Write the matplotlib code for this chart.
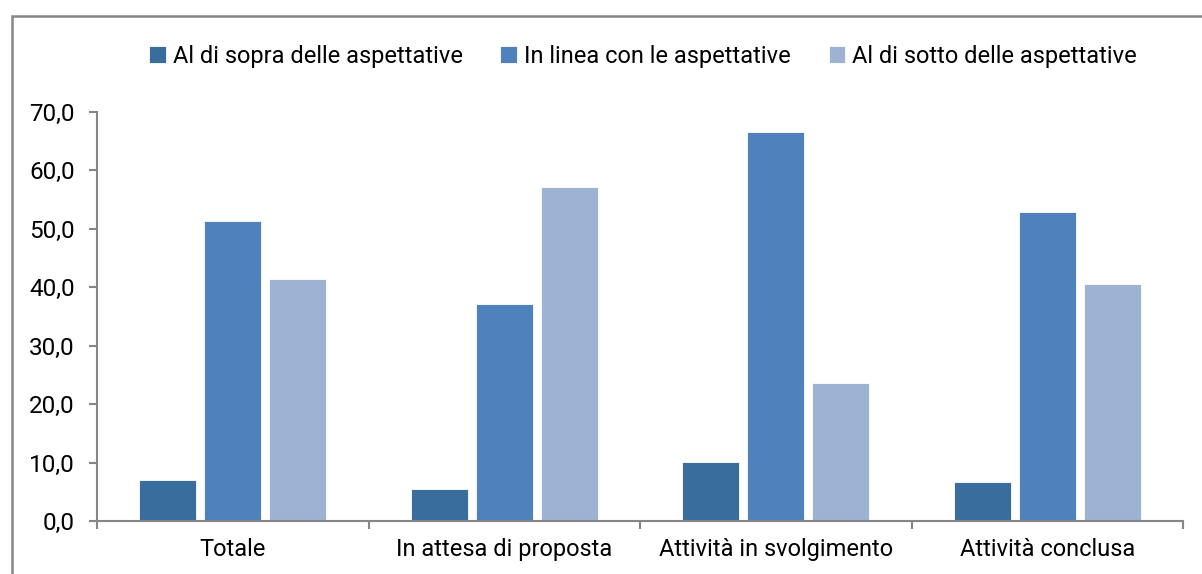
import matplotlib
matplotlib.use("Agg")
import matplotlib.pyplot as plt
from matplotlib.patches import Rectangle
import numpy as np

plt.rcParams['font.family'] = ['Roboto', 'DejaVu Sans']

categories = ["Totale", "In attesa di proposta", "Attività in svolgimento", "Attività conclusa"]
series_names = ["Al di sopra delle aspettative", "In linea con le aspettative", "Al di sotto delle aspettative"]
sopra = [7.0, 5.5, 10.1, 6.7]
in_linea = [51.3, 37.1, 66.6, 52.9]
sotto = [41.4, 57.2, 23.6, 40.6]
colors = ["#386D9E", "#4F81BD", "#9EB3D4"]
yticks = [0, 10, 20, 30, 40, 50, 60, 70]

W, H = 1202, 574
fig = plt.figure(figsize=(W / 100, H / 100), dpi=100)
fig.patch.set_facecolor("white")

# outer frame
fig.patches.append(Rectangle((12 / W, -0.05), 1.2, 1 - 16 / H + 0.05, transform=fig.transFigure,
                             fill=False, edgecolor="#868686", linewidth=1.8, zorder=0))

ax = fig.add_axes([97 / W, (H - 521) / H, (1183 - 97) / W, (521 - 112) / H])
x = np.arange(len(categories))
width = 0.21
step = 0.24
for i, (vals, name) in enumerate(zip([sopra, in_linea, sotto], series_names)):
    ax.bar(x + (i - 1) * step, vals, width, color=colors[i], label=name,
           edgecolor="white", linewidth=0.6)

ax.set_xlim(-0.5, len(categories) - 0.5)
ax.set_ylim(0, 70)
ax.set_yticks(yticks)
ax.set_yticklabels([f"{v:.1f}".replace(".", ",") for v in yticks], fontsize=17.5)
ax.set_xticks(x)
ax.set_xticklabels(categories, fontsize=17)
ax.set_xticks(np.arange(len(categories) + 1) - 0.5, minor=True)
ax.tick_params(axis='x', which='major', length=0, pad=12)
ax.tick_params(axis='x', which='minor', length=6, color="#868686", width=1.5, direction='out')
ax.tick_params(axis='y', length=6, color="#868686", width=1.5, pad=10)
for s in ["top", "right"]:
    ax.spines[s].set_visible(False)
for s in ["left", "bottom"]:
    ax.spines[s].set_color("#868686")
    ax.spines[s].set_linewidth(1.5)

leg = fig.legend(loc="center", bbox_to_anchor=(643 / W, 1 - 56 / H), ncol=3, frameon=False,
                 fontsize=17, handlelength=0.7, handleheight=0.7, handletextpad=0.3,
                 columnspacing=1.6)

fig.savefig("out.png", dpi=100)
